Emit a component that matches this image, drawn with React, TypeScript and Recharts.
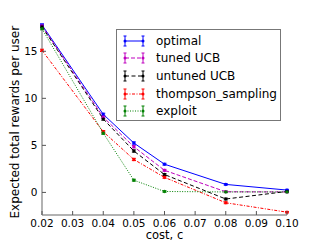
import { LineChart, Line, XAxis, YAxis, ErrorBar, Legend } from 'recharts';

// cost values on the x axis
const costs = [0.02, 0.04, 0.05, 0.06, 0.08, 0.1];
const xTicks = [0.02, 0.03, 0.04, 0.05, 0.06, 0.07, 0.08, 0.09, 0.1];
const yTicks = [0, 5, 10, 15];

// expected total rewards per user
const optimal = [17.8, 8.3, 5.25, 3.0, 0.85, 0.25];
const tunedUcb = [17.7, 8.0, 4.85, 2.35, 0.07, 0.05];
const untunedUcb = [17.6, 7.8, 4.4, 1.9, -0.7, 0.1];
const thompson = [15.1, 6.45, 3.5, 1.6, -1.1, -2.1];
const exploit = [17.4, 6.3, 1.3, 0.1, 0.05, 0.05];

// error bar half-widths
const optimalErr = [0.12, 0.12, 0.12, 0.1, 0.08, 0.08];
const tunedErr = [0.12, 0.12, 0.12, 0.1, 0.08, 0.08];
const untunedErr = [0.12, 0.12, 0.12, 0.1, 0.1, 0.08];
const thompsonErr = [0.12, 0.12, 0.12, 0.1, 0.1, 0.08];
const exploitErr = [0.12, 0.12, 0.1, 0.08, 0.08, 0.08];

const series = [
  { key: 'optimal', name: 'optimal', values: optimal, err: optimalErr, color: '#0000ff', dash: undefined },
  { key: 'tuned', name: 'tuned UCB', values: tunedUcb, err: tunedErr, color: '#bf00bf', dash: '4 2' },
  { key: 'untuned', name: 'untuned UCB', values: untunedUcb, err: untunedErr, color: '#000000', dash: '4 2.5' },
  { key: 'thompson', name: 'thompson_sampling', values: thompson, err: thompsonErr, color: '#ff0000', dash: '3 1.5 1 1.5' },
  { key: 'exploit', name: 'exploit', values: exploit, err: exploitErr, color: '#008000', dash: '1 1.5' },
];

const data = costs.map((c, i) => {
  const row: Record<string, number> = { cost: c };
  series.forEach((s) => {
    row[s.key] = s.values[i];
    row[s.key + 'Err'] = s.err[i];
  });
  return row;
});

const FONT = 'DejaVu Sans, sans-serif';
const AXIS = '#999999';

const BottomTick = (props: any) => {
  const { x, y, payload } = props;
  return (
    <g>
      <line x1={x} x2={x} y1={y} y2={y - 4} stroke="#555" strokeWidth={1} />
      <text x={x} y={y + 11.5} textAnchor="middle" fontSize={10.5} fontFamily={FONT} fill="#000">
        {Number(payload.value).toFixed(2)}
      </text>
    </g>
  );
};

const TopTick = (props: any) => {
  const { x, y } = props;
  return <line x1={x} x2={x} y1={y} y2={y + 4} stroke="#555" strokeWidth={1} />;
};

const LeftTick = (props: any) => {
  const { x, y, payload } = props;
  return (
    <g>
      <line x1={x} x2={x + 4} y1={y} y2={y} stroke="#555" strokeWidth={1} />
      <text x={x - 4.5} y={y} dy="0.36em" textAnchor="end" fontSize={10.5} fontFamily={FONT} fill="#000">
        {payload.value}
      </text>
    </g>
  );
};

const RightTick = (props: any) => {
  const { x, y } = props;
  return <line x1={x} x2={x - 4} y1={y} y2={y} stroke="#555" strokeWidth={1} />;
};

const LegendBox = () => (
  <div
    style={{
      width: 165,
      height: 92,
      border: '1px solid #777',
      background: '#fff',
      boxSizing: 'border-box',
      paddingTop: 2,
    }}
  >
    {series.map((s) => (
      <div key={s.key} style={{ display: 'flex', alignItems: 'center', height: 17.6 }}>
        <svg width={39} height={14} style={{ flex: 'none' }}>
          <line x1={8} x2={26} y1={7} y2={7} stroke={s.color} strokeWidth={1} strokeDasharray={s.dash} />
          {[8, 26].map((cx) => (
            <g key={cx}>
              <line x1={cx} x2={cx} y1={2} y2={12} stroke={s.color} strokeWidth={1} />
              <line x1={cx - 1.5} x2={cx + 1.5} y1={2} y2={2} stroke={s.color} strokeWidth={1} />
              <line x1={cx - 1.5} x2={cx + 1.5} y1={12} y2={12} stroke={s.color} strokeWidth={1} />
              <circle cx={cx} cy={7} r={1.5} fill={s.color} />
            </g>
          ))}
        </svg>
        <span style={{ fontFamily: FONT, fontSize: 12, color: '#000', whiteSpace: 'nowrap' }}>{s.name}</span>
      </div>
    ))}
  </div>
);

export default function App() {
  return (
    <div style={{ position: 'absolute', left: 0, top: 0, width: 320, height: 240, background: '#fff' }}>
      <LineChart width={320} height={240} data={data} margin={{ top: 24, right: 33, bottom: 0, left: 12 }}>
        <XAxis
          dataKey="cost"
          type="number"
          domain={[0.02, 0.1]}
          ticks={xTicks}
          height={25}
          tickSize={0}
          tickMargin={0}
          tick={<BottomTick />}
          stroke={AXIS}
          strokeWidth={1.5}
          interval={0}
          label={{ value: 'cost, c', position: 'insideBottom', offset: 1.5, fontSize: 11.5, fontFamily: FONT, fill: '#000' }}
        />
        <XAxis
          xAxisId="top"
          dataKey="cost"
          type="number"
          orientation="top"
          domain={[0.02, 0.1]}
          ticks={xTicks}
          height={0}
          tickSize={0}
          tickMargin={0}
          tick={<TopTick />}
          stroke={AXIS}
          strokeWidth={1.5}
          interval={0}
        />
        <YAxis
          type="number"
          domain={[-2.4, 17.9]}
          ticks={yTicks}
          width={30}
          tickSize={0}
          tickMargin={0}
          tick={<LeftTick />}
          stroke={AXIS}
          strokeWidth={1.5}
          allowDataOverflow
          interval={0}
          label={{
            value: 'Expected total rewards per user',
            angle: -90,
            position: 'insideLeft',
            offset: 3,
            dy: 99,
            fontSize: 12,
            fontFamily: FONT,
            fill: '#000',
          }}
        />
        <YAxis
          yAxisId="right"
          orientation="right"
          type="number"
          domain={[-2.4, 17.9]}
          ticks={yTicks}
          width={0}
          tickSize={0}
          tickMargin={0}
          tick={<RightTick />}
          stroke={AXIS}
          strokeWidth={1.5}
          allowDataOverflow
          interval={0}
        />
        {series.map((s) => (
          <Line
            key={s.key}
            dataKey={s.key}
            name={s.name}
            type="linear"
            stroke={s.color}
            strokeWidth={1}
            strokeDasharray={s.dash}
            dot={{ r: 1.3, fill: s.color, stroke: s.color, strokeWidth: 0.5, strokeDasharray: '' }}
            isAnimationActive={false}
          >
            <ErrorBar dataKey={s.key + 'Err'} width={2} stroke={s.color} strokeWidth={1} direction="y" />
          </Line>
        ))}
        <Legend
          layout="vertical"
          align="center"
          verticalAlign="middle"
          content={<LegendBox />}
          wrapperStyle={{ left: 116, top: 29, width: 167, height: 94 }}
        />
      </LineChart>
    </div>
  );
}
